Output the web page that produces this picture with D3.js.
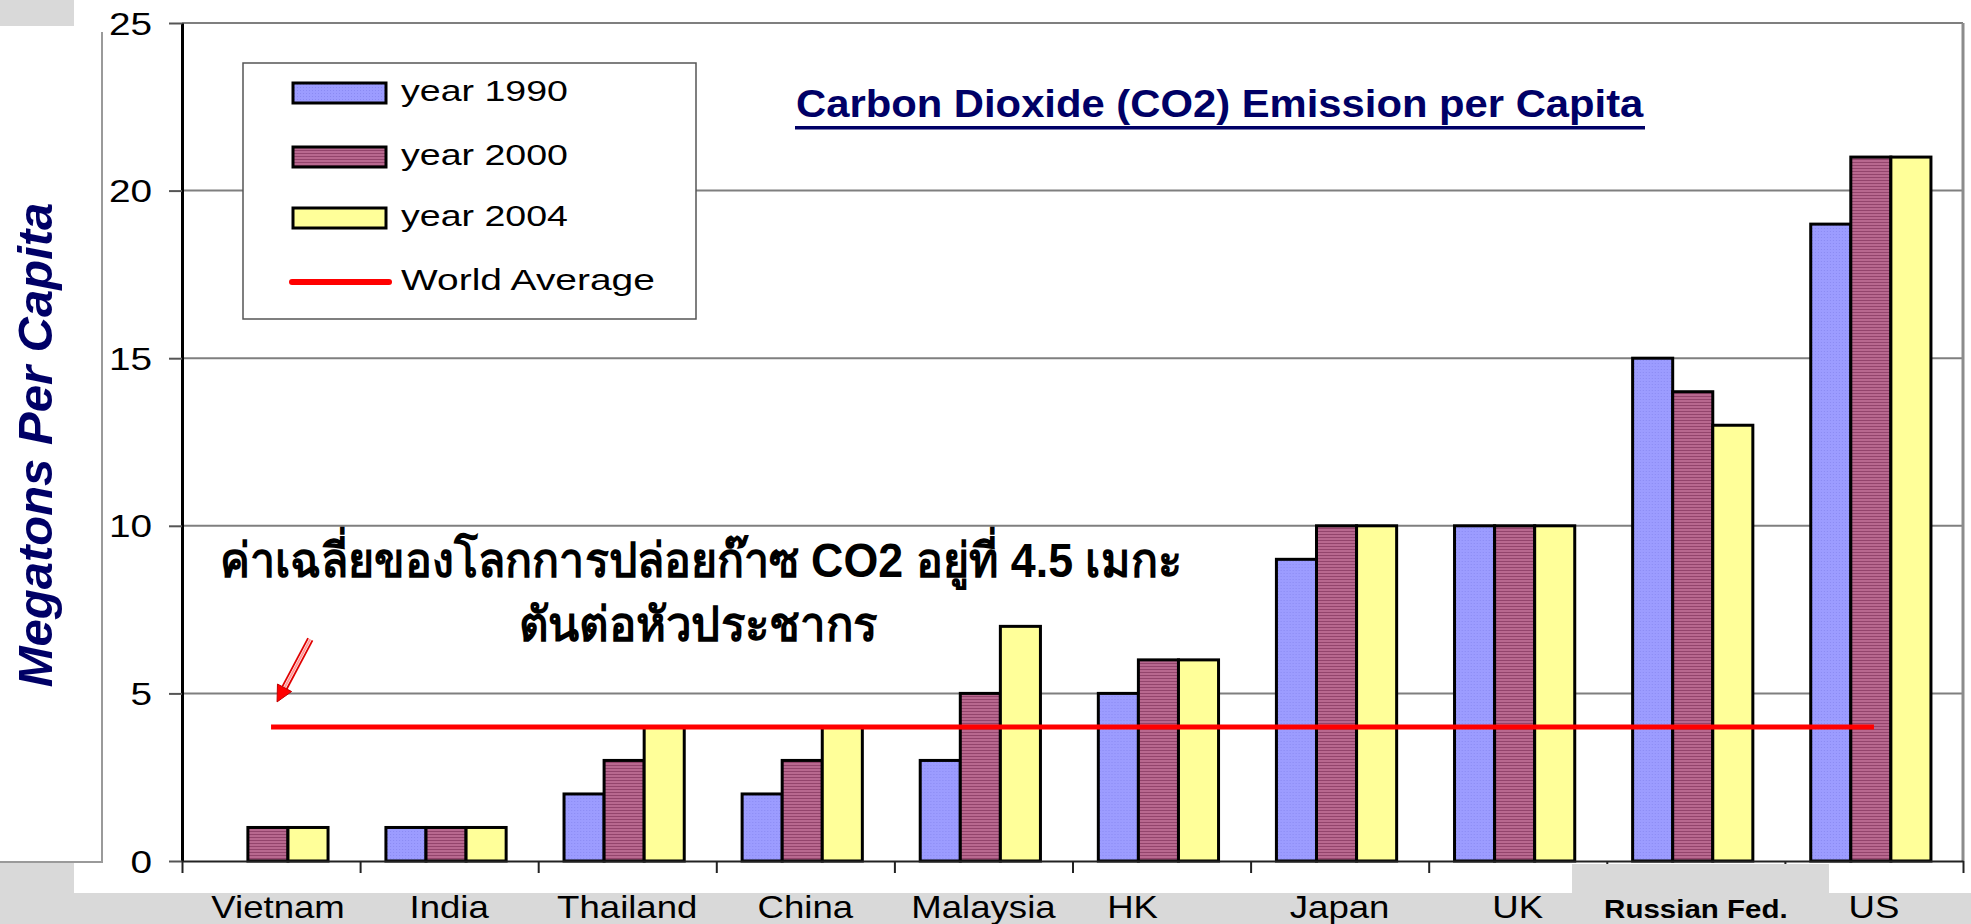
<!DOCTYPE html>
<html>
<head>
<meta charset="utf-8">
<script src="https://cdn.jsdelivr.net/npm/d3@7"></script>
<style>
  body { margin: 0; background: #fff; }
  text { font-family: Arial, "Liberation Sans", sans-serif; }
</style>
</head>
<body>
<svg id="chart"></svg>
<script>
// data
var countries = ["Vietnam", "India", "Thailand", "China", "Malaysia", "HK", "Japan", "UK", "Russian Fed.", "US"];
var years = ["year 1990", "year 2000", "year 2004"];
var v1990 = [0, 1, 2, 2, 3, 5, 9, 10, 15, 19];
var v2000 = [1, 1, 3, 3, 5, 6, 10, 10, 14, 21];
var v2004 = [1, 1, 4, 4, 7, 6, 10, 10, 13, 21];
var worldAverage = 4;
var yTicks = [0, 5, 10, 15, 20, 25];
var titleText = "Carbon Dioxide (CO2) Emission per Capita";
var yTitle = "Megatons Per Capita";
var noteLines = ["ค่าเฉลี่ยของโลกการปล่อยก๊าซ CO2 อยู่ที่ 4.5 เมกะ", "ตันต่อหัวประชากร"];
var avgLabel = "World Average";

var W = 1971, H = 924;
var SX = 1.18; // the original slide is stretched sideways

var series = [v1990, v2000, v2004];
var rows = countries.map(function (c, i) {
  return { country: c, values: years.map(function (yr, k) { return { year: yr, value: series[k][i] }; }) };
});

var svg = d3.select("#chart").attr("width", W).attr("height", H);

// patterns for the textured fills
var defs = svg.append("defs");
var p1 = defs.append("pattern").attr("id", "pBlue").attr("patternUnits", "userSpaceOnUse")
  .attr("width", 3).attr("height", 3);
p1.append("rect").attr("width", 3).attr("height", 3).attr("fill", "#9c9cff");
p1.append("rect").attr("width", 1).attr("height", 1).attr("fill", "#8a8af2");
var p2 = defs.append("pattern").attr("id", "pPlum").attr("patternUnits", "userSpaceOnUse")
  .attr("width", 4).attr("height", 3);
p2.append("rect").attr("width", 4).attr("height", 3).attr("fill", "#b8688f");
p2.append("rect").attr("width", 4).attr("height", 1).attr("fill", "#93446c");

var fills = { "year 1990": "url(#pBlue)", "year 2000": "url(#pPlum)", "year 2004": "#ffff99" };

// slide background pieces
svg.append("rect").attr("width", W).attr("height", H).attr("fill", "#fff");
svg.append("rect").attr("x", 0).attr("y", 0).attr("width", 74).attr("height", 26).attr("fill", "#d9d9d9");
svg.append("line").attr("x1", 102).attr("x2", 102).attr("y1", 32).attr("y2", 862)
  .attr("stroke", "#9a9a9a").attr("stroke-width", 2);
svg.append("line").attr("x1", 0).attr("x2", 103).attr("y1", 862).attr("y2", 862)
  .attr("stroke", "#9a9a9a").attr("stroke-width", 2);

// scales
var x = d3.scaleBand().domain(countries).range([182, 1963]).padding(0);
var bw = x.bandwidth();
var x1 = d3.scaleBand().domain(years).range([bw * 0.145, bw * 0.82]).padding(0);
var y = d3.scaleLinear().domain([0, 25]).range([861, 23]);

// gridlines and frame
svg.append("g").selectAll("line").data(yTicks.slice(1)).enter().append("line")
  .attr("x1", 182).attr("x2", 1963)
  .attr("y1", function (d) { return y(d); }).attr("y2", function (d) { return y(d); })
  .attr("stroke", "#7f7f7f").attr("stroke-width", 2);
svg.append("line").attr("x1", 1963).attr("x2", 1963).attr("y1", y(25)).attr("y2", y(0))
  .attr("stroke", "#8c8c8c").attr("stroke-width", 3);

function fitText(sel, w) {
  sel.each(function () {
    var bb = this.getBBox();
    var t = d3.select(this);
    var base = t.attr("transform") || "";
    t.attr("transform", base + " scale(" + (w / bb.width) + ",1)");
  });
}

// legend
var lg = svg.append("g");
lg.append("rect").attr("x", 243).attr("y", 63).attr("width", 453).attr("height", 256)
  .attr("fill", "#fff").attr("stroke", "#555").attr("stroke-width", 1.5);
var rowY = [93, 157, 218, 282];
var legWidths = [167, 167, 167, 254];
years.forEach(function (yr, k) {
  lg.append("rect").attr("x", 293).attr("y", rowY[k] - 10).attr("width", 93).attr("height", 20)
    .attr("fill", fills[yr]).attr("stroke", "#000").attr("stroke-width", 3);
});
lg.append("line").attr("x1", 292).attr("x2", 389).attr("y1", rowY[3]).attr("y2", rowY[3])
  .attr("stroke", "#ff0000").attr("stroke-width", 6).attr("stroke-linecap", "round");
years.concat([avgLabel]).forEach(function (t, k) {
  lg.append("text").attr("transform", "translate(401," + (rowY[k] + 8) + ")")
    .attr("font-size", 30).attr("fill", "#000").text(t)
    .call(fitText, legWidths[k]);
});

// bars
var groups = svg.append("g").selectAll("g").data(rows).enter().append("g")
  .attr("transform", function (d) { return "translate(" + x(d.country) + ",0)"; });
groups.selectAll("rect").data(function (d) { return d.values.filter(function (v) { return v.value > 0; }); })
  .enter().append("rect")
  .attr("x", function (d) { return x1(d.year); })
  .attr("width", x1.bandwidth())
  .attr("y", function (d) { return y(d.value); })
  .attr("height", function (d) { return y(0) - y(d.value); })
  .attr("fill", function (d) { return fills[d.year]; })
  .attr("stroke", "#000").attr("stroke-width", 3);

// y axis
var yAxis = svg.append("g").attr("transform", "translate(182,0)")
  .call(d3.axisLeft(y).tickValues(yTicks).tickSize(13).tickSizeOuter(0));
yAxis.select(".domain").attr("stroke", "#000").attr("stroke-width", 3);
yAxis.selectAll(".tick line").attr("stroke", "#555").attr("stroke-width", 2);
yAxis.selectAll(".tick text").attr("x", null).attr("dy", null)
  .attr("transform", "translate(-30,11) scale(1.25,1)")
  .attr("font-size", 31).attr("fill", "#000").attr("font-family", "Arial, 'Liberation Sans', sans-serif");

// x axis: ticks sit on the category boundaries
var xEdges = d3.scaleLinear().domain([0, countries.length]).range(x.range());
var xAxis = svg.append("g").attr("transform", "translate(0," + y(0) + ")")
  .call(d3.axisBottom(xEdges).ticks(countries.length).tickSize(12).tickSizeOuter(0).tickFormat(""));
xAxis.select(".domain").attr("stroke", "#222").attr("stroke-width", 2);
xAxis.selectAll(".tick line").attr("stroke", "#222").attr("stroke-width", 2);

// world average line
svg.append("line")
  .attr("x1", x(countries[0]) + bw / 2).attr("x2", x(countries[countries.length - 1]) + bw / 2)
  .attr("y1", y(worldAverage)).attr("y2", y(worldAverage))
  .attr("stroke", "#ff0000").attr("stroke-width", 5);

// bottom slide pieces
svg.append("rect").attr("x", 0).attr("y", 893).attr("width", W).attr("height", H - 893).attr("fill", "#d9d9d9");
svg.append("rect").attr("x", 0).attr("y", 863).attr("width", 74).attr("height", 30).attr("fill", "#d9d9d9");
svg.append("rect").attr("x", 1572).attr("y", 864).attr("width", 257).attr("height", 29).attr("fill", "#d9d9d9");

// category labels
var nudge = { "Vietnam": 7, "HK": -29 };
svg.append("g").selectAll("text").data(countries).enter().append("text")
  .attr("transform", function (d) {
    return "translate(" + (x(d) + bw / 2 + (nudge[d] || 0)) + ",918) scale(" + SX + ",1)";
  })
  .attr("text-anchor", "middle")
  .attr("font-size", function (d) { return d === "Russian Fed." ? 25 : 31; })
  .attr("font-weight", function (d) { return d === "Russian Fed." ? "bold" : "normal"; })
  .attr("fill", "#000")
  .text(function (d) { return d; });

// y axis title
svg.append("text").attr("transform", "translate(52,445) rotate(-90)")
  .attr("text-anchor", "middle").attr("font-size", 49).attr("font-weight", "bold")
  .attr("font-style", "italic").attr("fill", "#000066").text(yTitle);

// chart title
svg.append("text").attr("transform", "translate(796,117)")
  .attr("font-size", 39).attr("font-weight", "bold").attr("fill", "#000066")
  .text(titleText).call(fitText, 848);
svg.append("rect").attr("x", 795).attr("y", 126).attr("width", 850).attr("height", 3.5).attr("fill", "#000066");

// Thai note
var thaiFont = "'Noto Sans Thai', 'Noto Sans Thai UI', Loma, Garuda, Tahoma, 'DejaVu Sans', sans-serif";
var noteX = [220, 519], noteY = [577, 641], noteW = [962, 361];
noteLines.forEach(function (t, k) {
  svg.append("text").attr("transform", "translate(" + noteX[k] + "," + noteY[k] + ")")
    .attr("font-family", thaiFont).attr("font-size", 48).attr("font-weight", "bold")
    .attr("fill", "#000").text(t).call(fitText, noteW[k]);
});

// little red arrow pointing at the average line
var tip = [x(countries[0]) + bw / 2 + 6, y(worldAverage) - 25];
var ux = -0.468, uy = 0.883, nx = 0.883, ny = 0.468;
var base = [tip[0] - 16 * ux, tip[1] - 16 * uy];
var start = [base[0] - 55 * ux, base[1] - 55 * uy];
var arrow = svg.append("g");
[-2.5, 0, 2.5].forEach(function (o) {
  arrow.append("line")
    .attr("x1", start[0] + o * nx).attr("y1", start[1] + o * ny)
    .attr("x2", base[0] + o * nx).attr("y2", base[1] + o * ny)
    .attr("stroke", o === 0 ? "#ff9999" : "#e00000").attr("stroke-width", o === 0 ? 2 : 1.8);
});
arrow.append("path")
  .attr("d", "M" + tip[0] + "," + tip[1] +
    "L" + (base[0] + 8 * nx) + "," + (base[1] + 8 * ny) +
    "L" + (base[0] - 8 * nx) + "," + (base[1] - 8 * ny) + "Z")
  .attr("fill", "#ff0000").attr("stroke", "#c00000").attr("stroke-width", 1);
</script>
</body>
</html>
